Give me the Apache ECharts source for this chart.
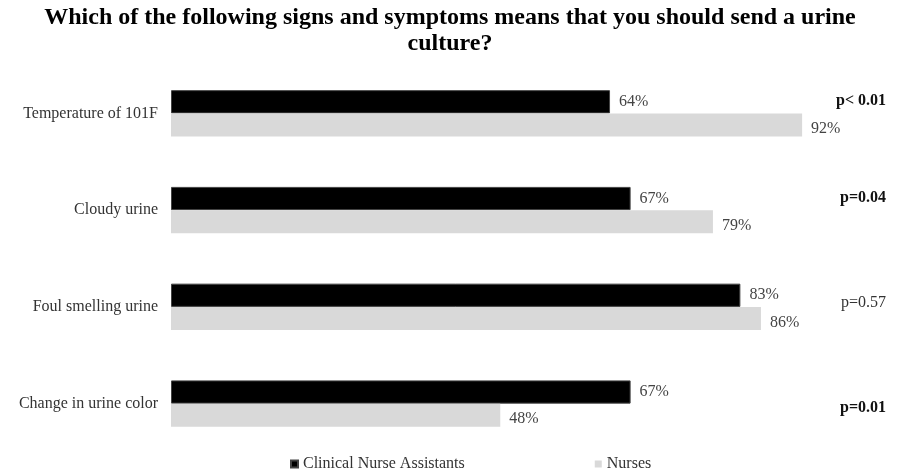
<!DOCTYPE html>
<html><head><meta charset="utf-8">
<script src="https://cdn.jsdelivr.net/npm/echarts@6/dist/echarts.min.js"></script>
<style>html,body{margin:0;padding:0;background:#fff}#c{width:900px;height:475px}</style>
</head><body><div id="c"></div>
<script>
var categories = ['Temperature of 101F', 'Cloudy urine', 'Foul smelling urine', 'Change in urine color'];
var cnaValues = [64, 67, 83, 67];
var nurseValues = [92, 79, 86, 48];
var pValues = ['p< 0.01', 'p=0.04', 'p=0.57', 'p=0.01'];
var pBold = [true, true, false, true];
var pShift = [26, 24, 8, -8];

var F = '"Liberation Serif", "Times New Roman", serif';
var chart = echarts.init(document.getElementById('c'));
chart.setOption({
  animation: false,
  title: {
    text: 'Which of the following signs and symptoms means that you should send a urine\nculture?',
    left: 'center', top: 0,
    textStyle: {fontFamily: F, fontWeight: 'bold', fontSize: 24, color: '#000', lineHeight: 26}
  },
  legend: {
    bottom: -2, left: 285, itemGap: 130,
    itemWidth: 7, itemHeight: 7, icon: 'rect',
    textStyle: {fontFamily: F, fontSize: 16, color: '#333'},
    data: ['Clinical Nurse Assistants', 'Nurses']
  },
  grid: {left: 171, width: 686, top: 65, bottom: 23, containLabel: false},
  xAxis: {type: 'value', min: 0, max: 100, show: false},
  yAxis: [{
    type: 'category', data: categories, inverse: true,
    axisLine: {show: false}, axisTick: {show: false},
    axisLabel: {fontFamily: F, fontSize: 16, color: '#333', margin: 13}
  }, {
    type: 'category', data: pValues, inverse: true, position: 'right',
    axisLine: {show: false}, axisTick: {show: false},
    axisLabel: {
      margin: 29, align: 'right',
      formatter: function (v, i) {
        return '{' + (pBold[i] ? 'b' : 'n') + i + '|' + v + '}';
      },
      rich: (function () {
        var r = {};
        for (var i = 0; i < pValues.length; i++) {
          var pad = pShift[i] >= 0 ? [0, 0, pShift[i], 0] : [-pShift[i], 0, 0, 0];
          r['b' + i] = {fontFamily: F, fontSize: 16, fontWeight: 'bold', color: '#111', padding: pad};
          r['n' + i] = {fontFamily: F, fontSize: 16, color: '#333', padding: pad};
        }
        return r;
      })()
    }
  }],
  series: [{
    name: 'Clinical Nurse Assistants', type: 'bar', data: cnaValues,
    barGap: '0%', barCategoryGap: '52%',
    itemStyle: {color: '#000', borderColor: '#444', borderWidth: 1},
    label: {show: true, position: 'right', formatter: '{c}%', fontFamily: F, fontSize: 16, color: '#444', distance: 9}
  }, {
    name: 'Nurses', type: 'bar', data: nurseValues,
    itemStyle: {color: '#d9d9d9'},
    label: {show: true, position: 'right', formatter: '{c}%', fontFamily: F, fontSize: 16, color: '#444', distance: 9, offset: [0, 4]}
  }]
});
</script></body></html>
